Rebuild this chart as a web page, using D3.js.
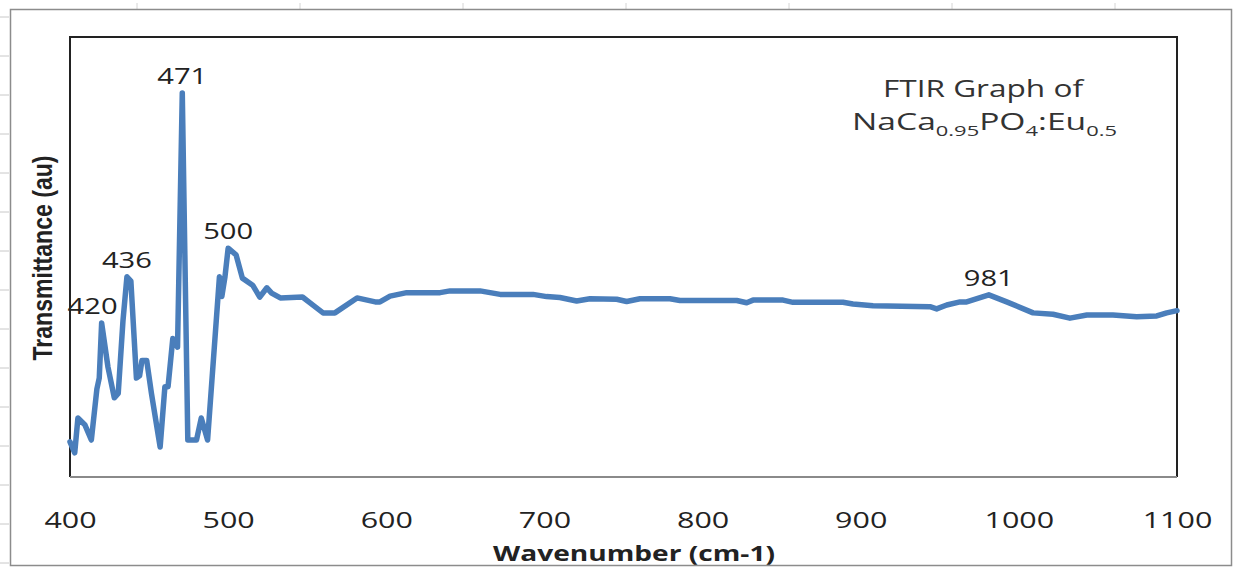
<!DOCTYPE html>
<html>
<head>
<meta charset="utf-8">
<script src="https://cdn.jsdelivr.net/npm/d3@7"></script>
<style>
  body { margin: 0; background: #fff; }
  svg { display: block; }
</style>
</head>
<body>
<div id="chart"></div>
<script>
// FTIR spectrum of NaCa0.95PO4:Eu0.5
// =========================================================

var wavenumber = [400, 403, 405, 409.5, 413.5, 417, 418.5, 420, 424, 428, 430.5, 433.5, 436, 438.5,
  442, 444, 445.5, 448.5, 451.5, 457, 460, 462, 465, 468, 471, 474.5, 480, 483, 487, 494.5,
  496, 498, 500, 505, 509, 515.5, 520, 524.5, 527.5, 533, 547, 552, 560, 567.5, 581.5, 593,
  596, 602.4, 612.9, 634, 640.3, 659.3, 672, 692.8, 701.4, 709.8, 720.4, 728.8, 745.7, 752,
  760.4, 779.4, 785.7, 821.6, 827.9, 831.9, 850.9, 857.2, 888.8, 895.1, 907.8, 943.8, 948,
  954.4, 962.8, 967, 981, 992.3, 1009, 1021.6, 1032.3, 1043, 1059.5, 1074.5, 1087.2, 1093.5, 1100];

var transmittance = [8.0, 5.5, 13.4, 11.8, 8.4, 20.0, 22.5, 35.0, 25.0, 18.0, 19.0, 35.5, 45.5, 44.5,
  22.5, 23.0, 26.5, 26.5, 19.0, 6.8, 20.5, 20.5, 31.5, 29.5, 87.3, 8.4, 8.4, 13.4, 8.4, 45.5,
  41.0, 45.5, 52.0, 50.5, 45.2, 43.6, 40.9, 43.0, 41.8, 40.7, 40.9, 39.5, 37.3, 37.3, 40.7, 39.8,
  39.8, 41.1, 41.9, 41.9, 42.3, 42.3, 41.5, 41.5, 41.0, 40.8, 40.0, 40.5, 40.4, 39.9,
  40.5, 40.5, 40.1, 40.1, 39.6, 40.2, 40.2, 39.7, 39.7, 39.3, 38.9, 38.7, 38.2,
  39.1, 39.8, 39.8, 41.4, 39.8, 37.3, 37.0, 36.1, 36.8, 36.8, 36.4, 36.6, 37.3, 37.8];

var peakLabels = [420, 436, 471, 500, 981];
var xTicks = [400, 500, 600, 700, 800, 900, 1000, 1100];

var width = 1234,
    height = 568;

var blue = "#4a7ebb";

var svg = d3.select("#chart").append("svg")
    .attr("width", width)
    .attr("height", height);

var x = d3.scaleLinear().domain([400, 1100]).range([70, 1177]);
var y = d3.scaleLinear().domain([0, 100]).range([477, 37]);

// faint spreadsheet cell marks around the chart object
var leftMarks = d3.range(17, 568, 39);
svg.selectAll(".lmark").data(leftMarks).enter().append("line")
    .attr("x1", 0).attr("x2", 9)
    .attr("y1", d => d).attr("y2", d => d)
    .attr("stroke", "#c8c8c8").attr("stroke-width", 1);
var topMarks = d3.range(137, 1200, 163);
svg.selectAll(".tmark").data(topMarks).enter().append("line")
    .attr("x1", d => d).attr("x2", d => d)
    .attr("y1", 3).attr("y2", 16)
    .attr("stroke", "#d4d4d4").attr("stroke-width", 1);

// chart area border
svg.append("rect")
    .attr("x", 10.5).attr("y", 9.5)
    .attr("width", 1221).attr("height", 556)
    .attr("fill", "#fff")
    .attr("stroke", "#8c8c8c")
    .attr("stroke-width", 1.5);

// plot box (left/top/right dark, bottom = gray axis line)
svg.append("path")
    .attr("d", "M70,477V37H1177V477")
    .attr("fill", "none")
    .attr("stroke", "#222")
    .attr("stroke-width", 2);
svg.append("line")
    .attr("x1", 70).attr("x2", 1177)
    .attr("y1", 477).attr("y2", 477)
    .attr("stroke", "#8a8a8a")
    .attr("stroke-width", 2);

// x axis labels
var xAxis = d3.axisBottom(x)
    .tickValues(xTicks)
    .tickSize(0)
    .tickPadding(36)
    .tickFormat(d3.format("d"));

var gx = svg.append("g")
    .attr("transform", "translate(0,477)")
    .call(xAxis);
gx.select(".domain").remove();
gx.selectAll("text")
    .attr("font-family", "'Open Sans', sans-serif")
    .attr("font-size", 21)
    .attr("fill", "#222")
    .attr("textLength", d => String(d).length * 17.4)
    .attr("lengthAdjust", "spacingAndGlyphs");

// the spectrum
var pts = wavenumber.map((w, i) => [w, transmittance[i]]);
var line = d3.line()
    .x(d => x(d[0]))
    .y(d => y(d[1]));

svg.append("path")
    .datum(pts)
    .attr("fill", "none")
    .attr("stroke", blue)
    .attr("stroke-width", 5.5)
    .attr("stroke-linejoin", "round")
    .attr("stroke-linecap", "round")
    .attr("d", line);

// peak labels
svg.selectAll(".peak").data(peakLabels).enter().append("text")
    .attr("class", "peak")
    .attr("x", d => x(d) + (d == 420 ? -9 : 0))
    .attr("y", d => y(transmittance[wavenumber.indexOf(d)]) - 9)
    .attr("text-anchor", "middle")
    .attr("font-family", "'Open Sans', sans-serif")
    .attr("font-size", 22)
    .attr("fill", "#222")
    .attr("textLength", 50)
    .attr("lengthAdjust", "spacingAndGlyphs")
    .text(d => d);

// title inside the plot
svg.append("text")
    .attr("x", 983).attr("y", 97)
    .attr("text-anchor", "middle")
    .attr("font-family", "'Open Sans', sans-serif")
    .attr("font-size", 23)
    .attr("fill", "#333")
    .attr("textLength", 200)
    .attr("lengthAdjust", "spacingAndGlyphs")
    .text("FTIR Graph of");

var t2 = svg.append("text")
    .attr("x", 852).attr("y", 130)
    .attr("font-family", "'Open Sans', sans-serif")
    .attr("font-size", 23)
    .attr("fill", "#333")
    .attr("textLength", 265)
    .attr("lengthAdjust", "spacingAndGlyphs");
t2.append("tspan").text("NaCa");
t2.append("tspan").attr("font-size", 15).attr("dy", 6).text("0.95");
t2.append("tspan").attr("dy", -6).text("PO");
t2.append("tspan").attr("font-size", 15).attr("dy", 6).text("4");
t2.append("tspan").attr("dy", -6).text(":Eu");
t2.append("tspan").attr("font-size", 15).attr("dy", 6).text("0.5");

// axis titles
svg.append("text")
    .attr("x", 634).attr("y", 561)
    .attr("text-anchor", "middle")
    .attr("font-family", "'Open Sans', sans-serif")
    .attr("font-weight", "bold")
    .attr("font-size", 22)
    .attr("fill", "#222")
    .attr("textLength", 282)
    .attr("lengthAdjust", "spacingAndGlyphs")
    .text("Wavenumber (cm-1)");

svg.append("text")
    .attr("transform", "translate(52,258) scale(1.35,1) rotate(-90)")
    .attr("text-anchor", "middle")
    .attr("font-family", "'Liberation Sans', Arial, sans-serif")
    .attr("font-weight", "bold")
    .attr("font-size", 21)
    .attr("fill", "#222")
    .attr("textLength", 205)
    .attr("lengthAdjust", "spacingAndGlyphs")
    .text("Transmittance (au)");
</script>
</body>
</html>
